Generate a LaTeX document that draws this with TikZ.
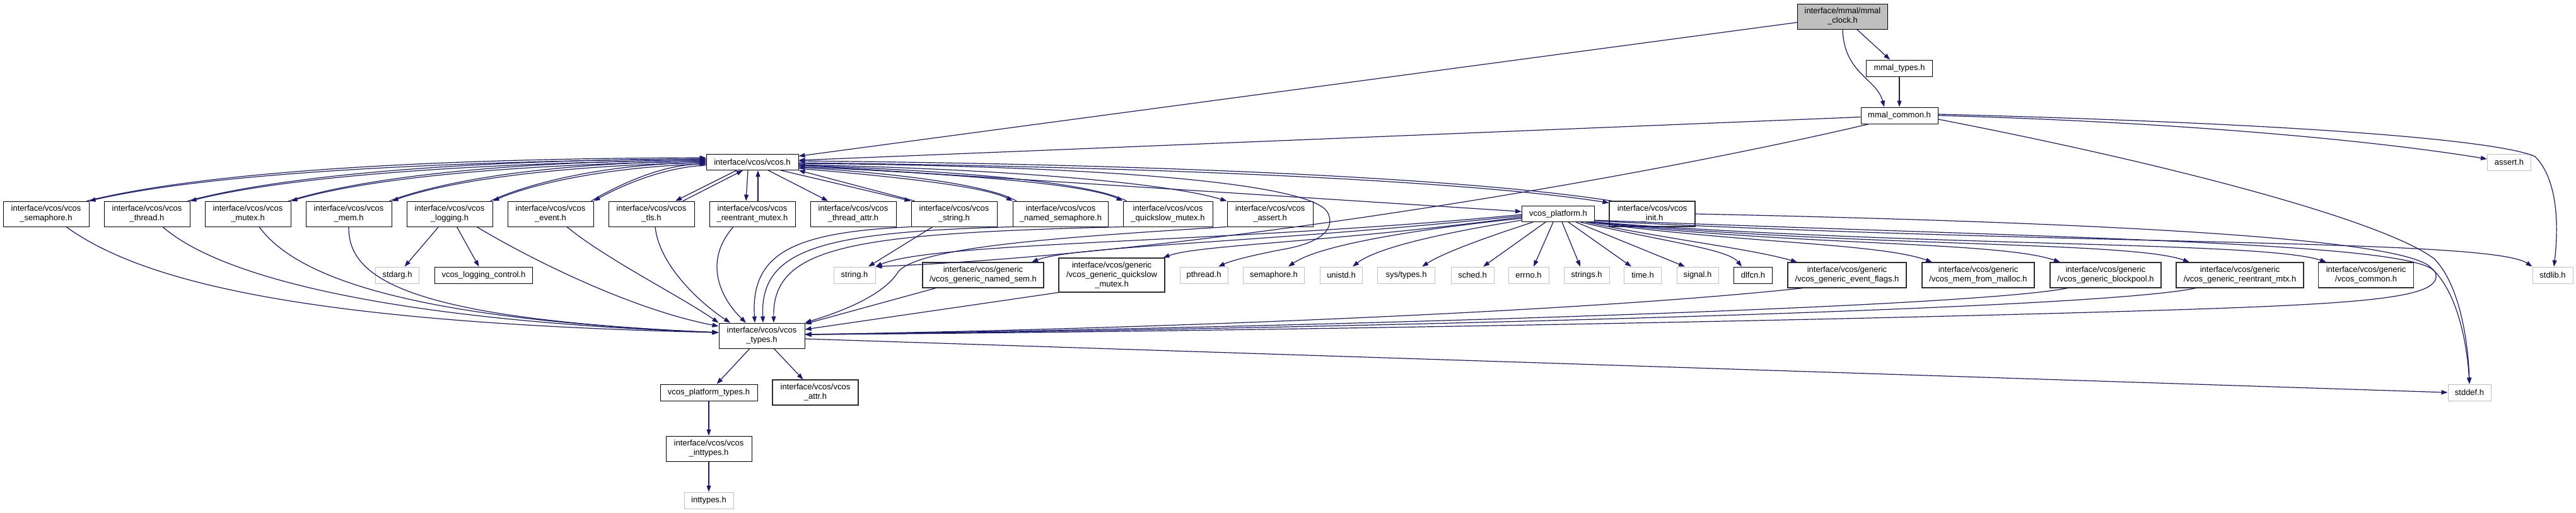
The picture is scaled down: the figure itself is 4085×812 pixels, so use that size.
\documentclass[tikz,border=0pt]{standalone}
\usepackage{fontspec}
\setmainfont{Liberation Sans}
\usepackage{tikz}
\usetikzlibrary{arrows.meta}
\definecolor{edgeblue}{RGB}{25,25,112}
\definecolor{grey75}{RGB}{191,191,191}
\definecolor{grey40}{RGB}{45,45,45}
\newcommand{\graphfont}{\fontsize{13}{15}\selectfont}
\tikzset{
  filebox/.style={draw=black,line width=1pt,fill=white,text=black,align=center,inner sep=0pt,font=\graphfont},
  greybox/.style={filebox,draw=grey40,line width=1.1pt},
  sysbox/.style={filebox,draw=grey75},
  rootbox/.style={filebox,fill=grey75},
  twoline/.style={minimum height=40pt},
  oneline/.style={minimum height=26pt},
  incl/.style={-{Triangle[length=10pt,width=7pt]},color=edgeblue,line width=1.2pt}
}
\begin{document}
\begin{tikzpicture}[x=1pt,y=-1pt]
\useasboundingbox (0,0) rectangle (4085,812);
% mmal files
\node[rootbox,twoline,minimum width=143pt] (clock) at (2922,26) {interface/mmal/mmal\\\_clock.h};
\node[filebox,oneline,minimum width=105pt] (mtypes) at (3012,108) {mmal\_types.h};
\node[filebox,oneline,minimum width=122pt] (mcommon) at (3012,183) {mmal\_common.h};
\node[filebox,minimum height=25pt,minimum width=146pt] (vcos) at (1193,257) {interface/vcos/vcos.h};
\node[sysbox,oneline,minimum width=69pt] (asserth) at (3979,257) {assert.h};
% headers pulled in by vcos.h
\node[filebox,twoline,minimum width=136pt] (sem) at (73,339) {interface/vcos/vcos\\\_semaphore.h};
\node[filebox,twoline,minimum width=136pt] (thr) at (233,339) {interface/vcos/vcos\\\_thread.h};
\node[filebox,twoline,minimum width=136pt] (mtx) at (393,339) {interface/vcos/vcos\\\_mutex.h};
\node[filebox,twoline,minimum width=136pt] (mem) at (553,339) {interface/vcos/vcos\\\_mem.h};
\node[filebox,twoline,minimum width=136pt] (logg) at (713,339) {interface/vcos/vcos\\\_logging.h};
\node[filebox,twoline,minimum width=136pt] (evt) at (873,339) {interface/vcos/vcos\\\_event.h};
\node[filebox,twoline,minimum width=136pt] (tls) at (1033,339) {interface/vcos/vcos\\\_tls.h};
\node[filebox,twoline,minimum width=136pt] (rmtx) at (1193,339) {interface/vcos/vcos\\\_reentrant\_mutex.h};
\node[filebox,twoline,minimum width=136pt] (tattr) at (1353,339) {interface/vcos/vcos\\\_thread\_attr.h};
\node[filebox,twoline,minimum width=136pt] (vstr) at (1513,339) {interface/vcos/vcos\\\_string.h};
\node[filebox,twoline,minimum width=151pt] (nsem) at (1682,339) {interface/vcos/vcos\\\_named\_semaphore.h};
\node[filebox,twoline,minimum width=142pt] (qsm) at (1852,339) {interface/vcos/vcos\\\_quickslow\_mutex.h};
\node[filebox,twoline,minimum width=136pt] (vassert) at (2014,339) {interface/vcos/vcos\\\_assert.h};
\node[filebox,minimum height=25pt,minimum width=115pt] (plat) at (2471,339) {vcos\_platform.h};
\node[greybox,twoline,minimum width=136pt] (init) at (2620,339) {interface/vcos/vcos\\\_init.h};
% third row
\node[sysbox,oneline,minimum width=69pt] (stdarg) at (630,436) {stdarg.h};
\node[filebox,oneline,minimum width=155pt] (logctl) at (767,436) {vcos\_logging\_control.h};
\node[sysbox,oneline,minimum width=66pt] (strh) at (1355,436) {string.h};
\node[greybox,twoline,minimum width=192pt] (gnsem) at (1559,436) {interface/vcos/generic\\/vcos\_generic\_named\_sem.h};
\node[greybox,minimum height=54pt,minimum width=168pt] (gqsm) at (1763,436) {interface/vcos/generic\\/vcos\_generic\_quickslow\\\_mutex.h};
\node[sysbox,oneline,minimum width=76pt] (pthr) at (1909,436) {pthread.h};
\node[sysbox,oneline,minimum width=97pt] (semh) at (2020,436) {semaphore.h};
\node[sysbox,oneline,minimum width=67pt] (unistd) at (2127,436) {unistd.h};
\node[sysbox,oneline,minimum width=91pt] (systypes) at (2230,436) {sys/types.h};
\node[sysbox,oneline,minimum width=68pt] (sched) at (2335,436) {sched.h};
\node[sysbox,oneline,minimum width=64pt] (errno) at (2424,436) {errno.h};
\node[sysbox,oneline,minimum width=72pt] (strings) at (2516,436) {strings.h};
\node[sysbox,oneline,minimum width=59pt] (timeh) at (2605,436) {time.h};
\node[sysbox,oneline,minimum width=66pt] (signal) at (2692,436) {signal.h};
\node[filebox,oneline,minimum width=61pt] (dlfcn) at (2780,436) {dlfcn.h};
\node[greybox,twoline,minimum width=188pt] (gevf) at (2929,436) {interface/vcos/generic\\/vcos\_generic\_event\_flags.h};
\node[greybox,twoline,minimum width=178pt] (gmalloc) at (3137,436) {interface/vcos/generic\\/vcos\_mem\_from\_malloc.h};
\node[greybox,twoline,minimum width=176pt] (gpool) at (3339,436) {interface/vcos/generic\\/vcos\_generic\_blockpool.h};
\node[greybox,twoline,minimum width=202pt] (grmtx) at (3552,436) {interface/vcos/generic\\/vcos\_generic\_reentrant\_mtx.h};
\node[greybox,twoline,minimum width=151pt] (gcommon) at (3752,436) {interface/vcos/generic\\/vcos\_common.h};
\node[sysbox,oneline,minimum width=64pt] (stdlib) at (4048,436) {stdlib.h};
% types and below
\node[filebox,twoline,minimum width=136pt] (vtypes) at (1208,532) {interface/vcos/vcos\\\_types.h};
\node[sysbox,oneline,minimum width=68pt] (stddef) at (3916,622) {stddef.h};
\node[filebox,oneline,minimum width=154pt] (ptypes) at (1124,622) {vcos\_platform\_types.h};
\node[greybox,twoline,minimum width=136pt] (vattr) at (1293,622) {interface/vcos/vcos\\\_attr.h};
\node[filebox,twoline,minimum width=136pt] (vinttypes) at (1124,711) {interface/vcos/vcos\\\_inttypes.h};
\node[sysbox,oneline,minimum width=78pt] (inth) at (1124,793) {inttypes.h};

% edges from the mmal files
\draw[incl] (clock) -- (vcos);
\draw[incl] (clock) -- (mtypes);
\draw[incl] (clock.south) .. controls +(2,70) and +(-12,-45) .. ([xshift=-24pt]mcommon.north);
\draw[incl] (mtypes) -- (mcommon);
\draw[incl] (mcommon) -- (vcos);
\draw[incl] ([xshift=-48pt]mcommon.south) .. controls (2600,282) and (1900,402) .. (strh.north east);
\draw[incl] (mcommon.east) .. controls (3500,195) and (3800,228) .. ([yshift=5pt]asserth.west);
\draw[incl] ([yshift=2pt]mcommon.east) .. controls (3650,196) and (3960,222) .. (4020,248) .. controls (4062,290) and (4055,380) .. ([xshift=2pt]stdlib.north);
\draw[incl] ([yshift=-6pt]mcommon.east) .. controls (3450,262) and (3780,350) .. (3860,410) .. controls (3900,450) and (3914,540) .. (stddef.north);

% vcos.h and the left row
\draw[incl] ([yshift=5pt]vcos.west) .. controls +(-420,3) and +(190,-44) .. (sem.north east);
\draw[incl] ([xshift=-4pt]sem.north east) .. controls +(194,-48) and +(-420,1) .. ([yshift=7pt]vcos.west);
\draw[incl] ([yshift=3pt]vcos.west) .. controls +(-350,3) and +(160,-40) .. (thr.north east);
\draw[incl] ([xshift=-4pt]thr.north east) .. controls +(164,-44) and +(-350,1) .. ([yshift=5pt]vcos.west);
\draw[incl] ([yshift=1pt]vcos.west) .. controls +(-280,3) and +(130,-38) .. (mtx.north east);
\draw[incl] ([xshift=-4pt]mtx.north east) .. controls +(134,-42) and +(-280,1) .. ([yshift=3pt]vcos.west);
\draw[incl] ([yshift=-1pt]vcos.west) .. controls +(-210,3) and +(100,-35) .. (mem.north east);
\draw[incl] ([xshift=-4pt]mem.north east) .. controls +(104,-39) and +(-210,1) .. ([yshift=1pt]vcos.west);
\draw[incl] ([yshift=-3pt]vcos.west) .. controls +(-140,3) and +(70,-30) .. (logg.north east);
\draw[incl] ([xshift=-4pt]logg.north east) .. controls +(74,-34) and +(-140,1) .. ([yshift=-1pt]vcos.west);
\draw[incl] ([yshift=-5pt]vcos.west) .. controls +(-70,3) and +(40,-22) .. (evt.north east);
\draw[incl] ([xshift=-4pt]evt.north east) .. controls +(44,-26) and +(-70,1) .. ([yshift=-3pt]vcos.west);
\draw[incl] ([xshift=-25pt]vcos.south) -- ([xshift=38pt]tls.north);
\draw[incl] ([xshift=50pt]tls.north) -- ([xshift=-15pt]vcos.south);
\draw[incl] ([xshift=-7pt]vcos.south) -- ([xshift=-10pt]rmtx.north);
\draw[incl] ([xshift=9pt]rmtx.north) -- ([xshift=9pt]vcos.south);
\draw[incl] (vcos) -- (tattr);
\draw[incl] ([xshift=-28pt]vcos.south east) -- (vstr.north west);
\draw[incl] ([xshift=6pt]vstr.north west) -- (vcos.south east);

% vcos.h and the right row
\draw[incl] ([yshift=-10pt]vcos.east) .. controls (1420,280) and (1560,295) .. (nsem.north west);
\draw[incl] ([xshift=6pt]nsem.north west) .. controls (1565,292) and (1420,275) .. ([yshift=-8pt]vcos.east);
\draw[incl] ([yshift=-7pt]vcos.east) .. controls (1500,275) and (1720,290) .. (qsm.north west);
\draw[incl] ([xshift=6pt]qsm.north west) .. controls (1725,287) and (1500,270) .. ([yshift=-5pt]vcos.east);
\draw[incl] ([yshift=-4pt]vcos.east) .. controls (1600,268) and (1850,290) .. (vassert.north west);
\draw[incl] (vcos) -- (plat);
\draw[incl] ([yshift=-1pt]vcos.east) .. controls (1900,265) and (2350,290) .. ([yshift=-3pt]init.north west);
\draw[incl] ([xshift=5pt]init.north west) .. controls (2350,286) and (1900,261) .. ([yshift=2pt]vcos.east);
\draw[incl] ([yshift=-2pt]vcos.east) .. controls (1750,263) and (2085,290) .. (2106,338) .. controls (2120,370) and (2080,388) .. (2030,396) .. controls (1990,404) and (1955,412) .. ([xshift=23pt]pthr.north);

% into vcos_types.h
\draw[incl] ([xshift=32pt]sem.south) .. controls (230,450) and (500,512) .. ([yshift=5pt]vtypes.west);
\draw[incl] ([xshift=25pt]thr.south) .. controls (350,440) and (620,508) .. ([yshift=5pt]vtypes.west);
\draw[incl] ([xshift=18pt]mtx.south) .. controls (470,440) and (650,506) .. ([yshift=5pt]vtypes.west);
\draw[incl] (mem.south) .. controls (552,440) and (640,505) .. ([yshift=5pt]vtypes.west);
\draw[incl] ([xshift=43pt]logg.south) .. controls (840,410) and (1000,490) .. ([yshift=15pt]vtypes.west);
\draw[incl] ([xshift=26pt]evt.south) .. controls (960,410) and (1080,470) .. (vtypes.north west);
\draw[incl] ([xshift=6pt]tls.south) .. controls (1045,420) and (1110,480) .. ([xshift=-50pt]vtypes.north);
\draw[incl] ([xshift=-30pt]rmtx.south) .. controls (1110,420) and (1150,480) .. ([xshift=-25pt]vtypes.north);
\draw[incl] (vstr.south west) .. controls (1260,368) and (1190,400) .. ([xshift=-11pt]vtypes.north);
\draw[incl] (nsem.south west) .. controls (1300,368) and (1205,395) .. ([xshift=2pt]vtypes.north);
\draw[incl] (qsm.south west) .. controls (1350,370) and (1225,390) .. ([xshift=19pt]vtypes.north);
\draw[incl] (vassert.south west) .. controls (1700,375) and (1460,390) .. (1425,430) .. controls (1400,470) and (1330,495) .. (vtypes.north east);
\draw[incl] (gnsem) -- (vtypes);
\draw[incl] (gqsm.south west) -- (vtypes);
\draw[incl] ([xshift=-70pt]gevf.south) .. controls (2500,495) and (1800,522) .. ([yshift=2pt]vtypes.east);
\draw[incl] ([xshift=-60pt]gpool.south) .. controls (3100,492) and (1800,524) .. ([yshift=2pt]vtypes.east);
\draw[incl] ([xshift=-70pt]grmtx.south) .. controls (3300,496) and (1800,526) .. ([yshift=2pt]vtypes.east);

% other small ones
\draw[incl] (logg) -- (stdarg);
\draw[incl] (logg) -- (logctl);
\draw[incl] ([xshift=-34pt]vstr.south) -- ([xshift=22pt]strh.north);

% vcos_platform.h
\draw[incl] ([yshift=-1pt]plat.west) .. controls (1950,385) and (1480,383) .. (strh.north east);
\draw[incl] ([yshift=-3pt]plat.west) .. controls (2000,385) and (1700,390) .. ([xshift=77pt]gnsem.north);
\draw[incl] ([yshift=-5pt]plat.west) .. controls (2100,385) and (1900,388) .. ([xshift=-3pt]gqsm.north east);
\draw[incl] ([yshift=-7pt]plat.west) .. controls (2230,365) and (2090,390) .. ([xshift=23pt]semh.north);
\draw[incl] ([yshift=-10pt]plat.west) .. controls (2270,372) and (2180,395) .. ([xshift=18pt]unistd.north);
\draw[incl] ([xshift=-40pt]plat.south) .. controls (2360,375) and (2290,400) .. ([xshift=25pt]systypes.north);
\draw[incl] ([xshift=-20pt]plat.south) -- ([xshift=17pt]sched.north);
\draw[incl] ([xshift=-8pt]plat.south) -- ([xshift=8pt]errno.north);
\draw[incl] ([xshift=6pt]plat.south) -- ([xshift=-10pt]strings.north);
\draw[incl] ([xshift=16pt]plat.south) -- ([xshift=-18pt]timeh.north);
\draw[incl] ([xshift=28pt]plat.south) -- ([xshift=-20pt]signal.north);
\draw[incl] ([xshift=35pt]plat.south) .. controls (2650,385) and (2740,395) .. ([xshift=-18pt]dlfcn.north);
\draw[incl] ([xshift=-14pt]plat.south east) .. controls (2650,380) and (2780,395) .. ([xshift=-79pt]gevf.north);
\draw[incl] ([xshift=-8pt]plat.south east) .. controls (2750,385) and (2980,385) .. ([xshift=-73pt]gmalloc.north);
\draw[incl] ([xshift=-5pt]plat.south east) .. controls (2850,390) and (3170,382) .. ([xshift=-72pt]gpool.north);
\draw[incl] ([xshift=-3pt]plat.south east) .. controls (2950,392) and (3380,382) .. ([xshift=-80pt]grmtx.north);
\draw[incl] (plat.south east) .. controls (3050,392) and (3590,382) .. ([xshift=-63pt]gcommon.north);
\draw[incl] ([yshift=2pt]plat.south east) .. controls (3300,390) and (3950,378) .. (stdlib.north west);
\draw[incl] ([yshift=3pt]plat.south east) .. controls (3300,378) and (3840,385) .. (3862,432) .. controls (3875,470) and (3770,480) .. (3480,490) .. controls (2800,512) and (1700,528) .. ([yshift=2pt]vtypes.east);
\draw[incl] (init.east) .. controls (3300,352) and (3780,375) .. (3850,420) .. controls (3895,455) and (3912,540) .. (stddef.north);

% below vcos_types.h
\draw[incl] ([yshift=-5pt]vtypes.east) -- (stddef.west);
\draw[incl] (vtypes) -- (ptypes);
\draw[incl] (vtypes) -- (vattr);
\draw[incl] (ptypes) -- (vinttypes);
\draw[incl] (vinttypes) -- (inth);
\end{tikzpicture}
\end{document}
